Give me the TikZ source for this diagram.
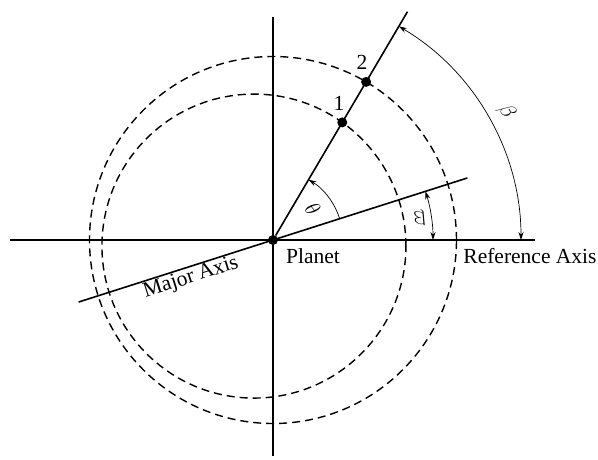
\RequirePackage{fix-cm}
\documentclass[tikz,border=0pt]{standalone}
\usepackage{fontspec}
\setmainfont{Liberation Serif}
\usepackage{amsmath}
\usepackage{tikz}
\usetikzlibrary{arrows.meta}

\tikzset{
  axisline/.style={line width=1.6pt},
  orbit/.style={line width=1.4pt,dash pattern=on 8pt off 5pt},
  anglearc/.style={line width=0.7pt},
  tip/.tip={Stealth[length=8pt,width=5pt]},
  dot/.style={circle,fill=black,inner sep=0pt,minimum size=10pt},
}

\begin{document}
\begin{tikzpicture}[x=1pt,y=1pt,font=\fontsize{21.5}{25}\selectfont]
  \useasboundingbox (-273,-219) rectangle (325,240);
  % axes and lines through the planet
  \coordinate (refW) at (-263,0);
  \coordinate (refE) at (262,0);
  \coordinate (vS) at (0,-216);
  \coordinate (vN) at (0,223);
  \coordinate (majW) at (197.7:204);
  \coordinate (majE) at (17.7:204);
  \coordinate (los) at (59.5:265);
  \draw[axisline] (refW) -- (refE);
  \draw[axisline] (vS) -- (vN);
  \draw[axisline] (majW) -- (majE);
  \node[dot] (planet) at (0,0) {};
  \draw[axisline] (planet) -- (los);
  % orbits
  \coordinate (c2) at (0,0);
  \coordinate (c1) at (197.7:20);
  \draw[orbit] (c2) circle (183.5);
  \draw[orbit] (c1) circle (152);
  \node[dot] (p1) at (59.5:136.5) {};
  \node[dot] (p2) at (59.5:183.5) {};
  \node (n1) at (66,137) {1};
  \node (n2) at (89,178) {2};
  % angles
  \coordinate (th0) at (17.7:70);
  \coordinate (vp0) at (0:160);
  \coordinate (be0) at (0:248);
  \draw[anglearc,-tip] (th0) arc[start angle=17.7,end angle=59.5,radius=70];
  \draw[anglearc,tip-tip] (vp0) arc[start angle=0,end angle=17.7,radius=160];
  \draw[anglearc,tip-tip] (be0) arc[start angle=0,end angle=59.5,radius=248];
  \node[rotate=-52] (theta) at (38:50.6) {$\theta$};
  \node[rotate=-85] (varpi) at (8.4:148) {$\varpi$};
  \node[rotate=-61] (beta) at (28.8:266.6) {$\beta$};
  % labels
  \node (planetlbl) at (40,-16) {Planet};
  \node (reflbl) at (257,-16) {Reference Axis};
  \node[rotate=17.7] (majlbl) at (-82,-38) {Major Axis};
\end{tikzpicture}
\end{document}
